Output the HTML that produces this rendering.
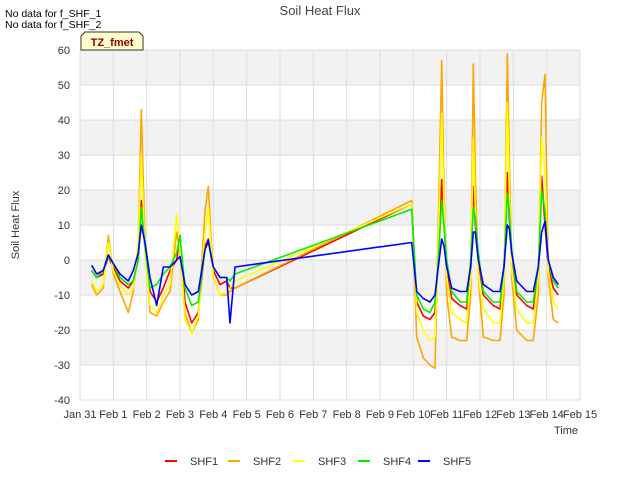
<!DOCTYPE html>
<html><head><meta charset="utf-8"><style>body{margin:0;background:#fff}text{font-family:"Liberation Sans",sans-serif}</style></head>
<body>
<svg id="c" width="640" height="480" xmlns="http://www.w3.org/2000/svg">
<text x="5" y="17" font-size="10.5">No data for f_SHF_1</text>
<text x="5" y="28" font-size="10.5">No data for f_SHF_2</text>
<text x="320" y="15" font-size="13" fill="#444" text-anchor="middle">Soil Heat Flux</text>
<text transform="translate(19,225) rotate(-90)" font-size="11" text-anchor="middle" fill="#333">Soil Heat Flux</text>
<text x="566" y="434" font-size="11" text-anchor="middle" fill="#333">Time</text>
<g id="grid"></g>
<g id="series"></g>
<g><path d="M81,50 L81,36 L85,32 L139,32 L143,36 L143,50 Z" fill="#ffffcc" stroke="#333"/><text x="112" y="46" font-size="11" font-weight="bold" fill="#8b0000" text-anchor="middle">TZ_fmet</text></g>
<g id="legend"></g>
</svg>
<script>
const dayLabels=["Jan 31","Feb 1","Feb 2","Feb 3","Feb 4","Feb 5","Feb 6","Feb 7","Feb 8","Feb 9","Feb 10","Feb 11","Feb 12","Feb 13","Feb 14","Feb 15"];
const yTicks=[-40,-30,-20,-10,0,10,20,30,40,50,60];
const seriesNames=["SHF1","SHF2","SHF3","SHF4","SHF5"];
const seriesColors=["#ff0000","#ffa500","#ffff00","#00ee00","#0000ff"];
const times=[0.35,0.5,0.7,0.85,1.0,1.2,1.45,1.6,1.75,1.84,1.95,2.1,2.3,2.5,2.7,2.9,3.0,3.15,3.35,3.55,3.75,3.85,4.0,4.2,4.4,4.5,4.65,
9.95,10.1,10.3,10.5,10.65,10.75,10.85,10.92,11.0,11.15,11.4,11.6,11.72,11.8,11.86,11.95,12.1,12.4,12.6,12.72,12.82,12.88,12.95,13.1,13.4,13.6,13.75,13.85,13.95,14.05,14.2,14.35];
const shf1=[-3,-5,-4,1,-2,-6,-8,-6,1,17,3,-9,-12,-8,-3,0,7,-12,-18,-15,4,6,-3,-7,-6,-8,-8,
16,-12,-16,-17,-15,0,23,10,-2,-11,-13,-14,-2,21,10,0,-10,-13,-14,-2,25,12,2,-10,-13,-14,-3,24,10,-2,-8,-10];
const shf2=[-7,-10,-8,7,-4,-9,-15,-9,5,43,5,-15,-16,-12,-9,8,2,-15,-21,-17,14,21,-5,-10,-10,-9,-8,
17,-22,-28,-30,-31,10,57,20,-10,-22,-23,-23,-10,56,25,-5,-22,-23,-23,-10,59,30,-5,-20,-23,-23,-10,45,53,-5,-17,-18];
const shf3=[-6,-9,-7,5,-3,-7,-10,-8,5,30,2,-13,-15,-10,-7,13,4,-17,-21,-16,8,15,-5,-10,-9,-8,-6,
16,-15,-20,-23,-22,5,42,15,-5,-15,-17,-18,-5,35,15,-5,-14,-18,-18,-5,45,20,-3,-14,-18,-18,-5,35,25,-3,-12,-14];
const shf4=[-3,-5,-3,1,-1,-5,-7,-6,0,15,4,-8,-7,-4,-2,2,7,-8,-13,-12,3,5,-2,-5,-5,-6,-4,
14.5,-10,-14,-15,-12,0,17,10,0,-9,-12,-12,0,15,12,2,-9,-12,-12,-2,19,14,3,-9,-12,-12,-2,20,14,0,-6,-8];
const shf5=[-1.5,-4,-3,1.5,-1,-4,-6,-3,2,10,5,-5,-13,-2,-2,0,1,-7,-10,-9,3,5.5,-2,-5,-5,-18,-2,
5,-9,-11,-12,-10,-2,6,4,-2,-8,-9,-9,-2,8,8,0,-7,-9,-9,-2,10,9,2,-6,-9,-9,-2,8,11,0,-5,-7];
const allSeries=[shf1,shf2,shf3,shf4,shf5];
const X0=80,X1=580,Y0=50,Y1=400;
const xs=d=>X0+(X1-X0)*d/15;
const ys=v=>Y1-(Y1-Y0)*(v+40)/100;
const NS="http://www.w3.org/2000/svg";
function mk(tag,attrs,parent){const e=document.createElementNS(NS,tag);for(const k in attrs)e.setAttribute(k,attrs[k]);parent.appendChild(e);return e;}
const grid=document.getElementById('grid');
mk('rect',{x:X0,y:Y0,width:X1-X0,height:Y1-Y0,fill:'#fff'},grid);
for(let i=0;i<yTicks.length-1;i++){
  if((yTicks.length-2-i)%2===0){const r=mk('rect',{x:X0,y:ys(yTicks[i+1]),width:X1-X0,height:ys(yTicks[i])-ys(yTicks[i+1]),fill:'#f2f2f2'},grid);
  
  }
}
yTicks.forEach(v=>{
  const l=mk('line',{x1:X0,x2:X1,y1:ys(v),y2:ys(v),stroke:'#dcdcdc'},grid);
  
  
  const t=mk('text',{x:X0-10,y:ys(v)+4,'font-size':11,'text-anchor':'end',fill:'#333'},grid);t.textContent=v;
  
  
});
dayLabels.forEach((s,i)=>{
  const l=mk('line',{x1:xs(i),x2:xs(i),y1:Y0,y2:Y1,stroke:'#dcdcdc'},grid);
  
  
  const t=mk('text',{x:xs(i),y:Y1+18,'font-size':11,'text-anchor':'middle',fill:'#333'},grid);t.textContent=s;
  
  
});
const sg=document.getElementById('series');
allSeries.forEach((vals,si)=>{
  const d=vals.map((v,i)=>(i?'L':'M')+xs(times[i]).toFixed(1)+','+ys(v).toFixed(1)).join(' ');
  const p=mk('path',{d:d,fill:'none',stroke:seriesColors[si],'stroke-width':1.6,'stroke-linejoin':'round'},sg);
  
  
});
const lg=document.getElementById('legend');
const lx=[172,235,300,365,425];
seriesNames.forEach((n,i)=>{
  const g=mk('g',{},lg);
  
  
  mk('line',{x1:lx[i]-7,x2:lx[i]+5,y1:461,y2:461,stroke:seriesColors[i],'stroke-width':2},g);
  const t=mk('text',{x:lx[i]+18,y:465,'font-size':11,fill:'#333'},g);t.textContent=n;
});
</script>
</body></html>
